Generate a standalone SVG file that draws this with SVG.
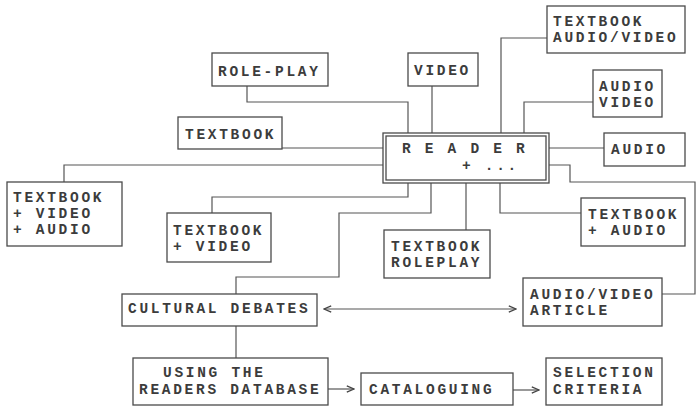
<svg xmlns="http://www.w3.org/2000/svg" width="696" height="407" viewBox="0 0 696 407">
<defs>
<style>
.box{fill:none;stroke:#4a4a4a;stroke-width:1.3}
.ln{fill:none;stroke:#555;stroke-width:1.2}
.t{font-family:"Liberation Mono","Courier New",monospace;font-size:14.5px;font-weight:bold;fill:#3c3c3c;letter-spacing:2.7px}
</style>
<marker id="ah" viewBox="0 0 10 10" refX="9" refY="5" markerWidth="9" markerHeight="9" markerUnits="userSpaceOnUse" orient="auto-start-reverse">
<path d="M1,1.5 L9,5 L1,8.5" fill="none" stroke="#444" stroke-width="1.5"/>
</marker>
</defs>
<rect width="696" height="407" fill="#fff"/>
<g id="connectors">
<polyline class="ln" points="247,86 247,102 408,102 408,133"/>
<line class="ln" x1="432" y1="86" x2="432" y2="133"/>
<polyline class="ln" points="547,38 501,38 501,133"/>
<polyline class="ln" points="593,102 524,102 524,133"/>
<line class="ln" x1="282" y1="148" x2="383" y2="148"/>
<polyline class="ln" points="64,182 64,165 383,165"/>
<line class="ln" x1="549" y1="148" x2="604" y2="148"/>
<polyline class="ln" points="549,165 570,165 570,182 695,182 695,294 662,294"/>
<polyline class="ln" points="408,183 408,197 212,197 212,213"/>
<polyline class="ln" points="431,183 431,213 339,213 339,277 236,277 236,294"/>
<line class="ln" x1="466" y1="183" x2="466" y2="230"/>
<polyline class="ln" points="500,183 500,213 581,213"/>
<line class="ln" x1="236" y1="326" x2="236" y2="358"/>
<line class="ln" x1="324" y1="309" x2="516" y2="309" marker-start="url(#ah)" marker-end="url(#ah)"/>
<line class="ln" x1="328" y1="389" x2="354" y2="389" marker-end="url(#ah)"/>
<line class="ln" x1="513" y1="390" x2="539" y2="390" marker-end="url(#ah)"/>
</g>
<g id="reader">
<rect class="box" x="383" y="133" width="166" height="50"/>
<rect class="box" x="386" y="136" width="160" height="44"/>
<text class="t" x="402" y="153">R E A D E R</text>
<text class="t" x="462" y="170" letter-spacing="3.6">+ ...</text>
</g>
<g id="role-play">
<rect class="box" x="212" y="53" width="116" height="33"/>
<text class="t" x="218" y="76">ROLE-PLAY</text>
</g>
<g id="video">
<rect class="box" x="408" y="53" width="70" height="33"/>
<text class="t" x="414" y="75">VIDEO</text>
</g>
<g id="textbook-audio-video">
<rect class="box" x="547" y="6" width="138" height="47"/>
<text class="t" x="553" y="26">TEXTBOOK</text>
<text class="t" x="553" y="42">AUDIO/VIDEO</text>
</g>
<g id="audio-video">
<rect class="box" x="593" y="70" width="69" height="47"/>
<text class="t" x="599" y="91">AUDIO</text>
<text class="t" x="599" y="107">VIDEO</text>
</g>
<g id="textbook">
<rect class="box" x="178" y="117" width="104" height="32"/>
<text class="t" x="185" y="139">TEXTBOOK</text>
</g>
<g id="audio">
<rect class="box" x="604" y="133" width="81" height="33"/>
<text class="t" x="611" y="154">AUDIO</text>
</g>
<g id="textbook-video-audio">
<rect class="box" x="7" y="182" width="115" height="64"/>
<text class="t" x="13" y="202">TEXTBOOK</text>
<text class="t" x="13" y="218">+ VIDEO</text>
<text class="t" x="13" y="234">+ AUDIO</text>
</g>
<g id="textbook-video">
<rect class="box" x="167" y="213" width="104" height="49"/>
<text class="t" x="173" y="235">TEXTBOOK</text>
<text class="t" x="173" y="251">+ VIDEO</text>
</g>
<g id="textbook-roleplay">
<rect class="box" x="384" y="230" width="106" height="48"/>
<text class="t" x="391" y="251">TEXTBOOK</text>
<text class="t" x="391" y="267">ROLEPLAY</text>
</g>
<g id="textbook-audio">
<rect class="box" x="581" y="198" width="104" height="48"/>
<text class="t" x="588" y="219">TEXTBOOK</text>
<text class="t" x="588" y="235">+ AUDIO</text>
</g>
<g id="cultural-debates">
<rect class="box" x="122" y="294" width="195" height="32"/>
<text class="t" x="128" y="313">CULTURAL DEBATES</text>
</g>
<g id="audio-video-article">
<rect class="box" x="523" y="278" width="139" height="48"/>
<text class="t" x="530" y="299">AUDIO/VIDEO</text>
<text class="t" x="530" y="315">ARTICLE</text>
</g>
<g id="using-readers-database">
<rect class="box" x="133" y="358" width="195" height="47"/>
<text class="t" x="163" y="377">USING THE</text>
<text class="t" x="139" y="394">READERS DATABASE</text>
</g>
<g id="cataloguing">
<rect class="box" x="361" y="373" width="152" height="32"/>
<text class="t" x="369" y="394">CATALOGUING</text>
</g>
<g id="selection-criteria">
<rect class="box" x="546" y="358" width="116" height="47"/>
<text class="t" x="553" y="377">SELECTION</text>
<text class="t" x="553" y="394">CRITERIA</text>
</g>
</svg>
